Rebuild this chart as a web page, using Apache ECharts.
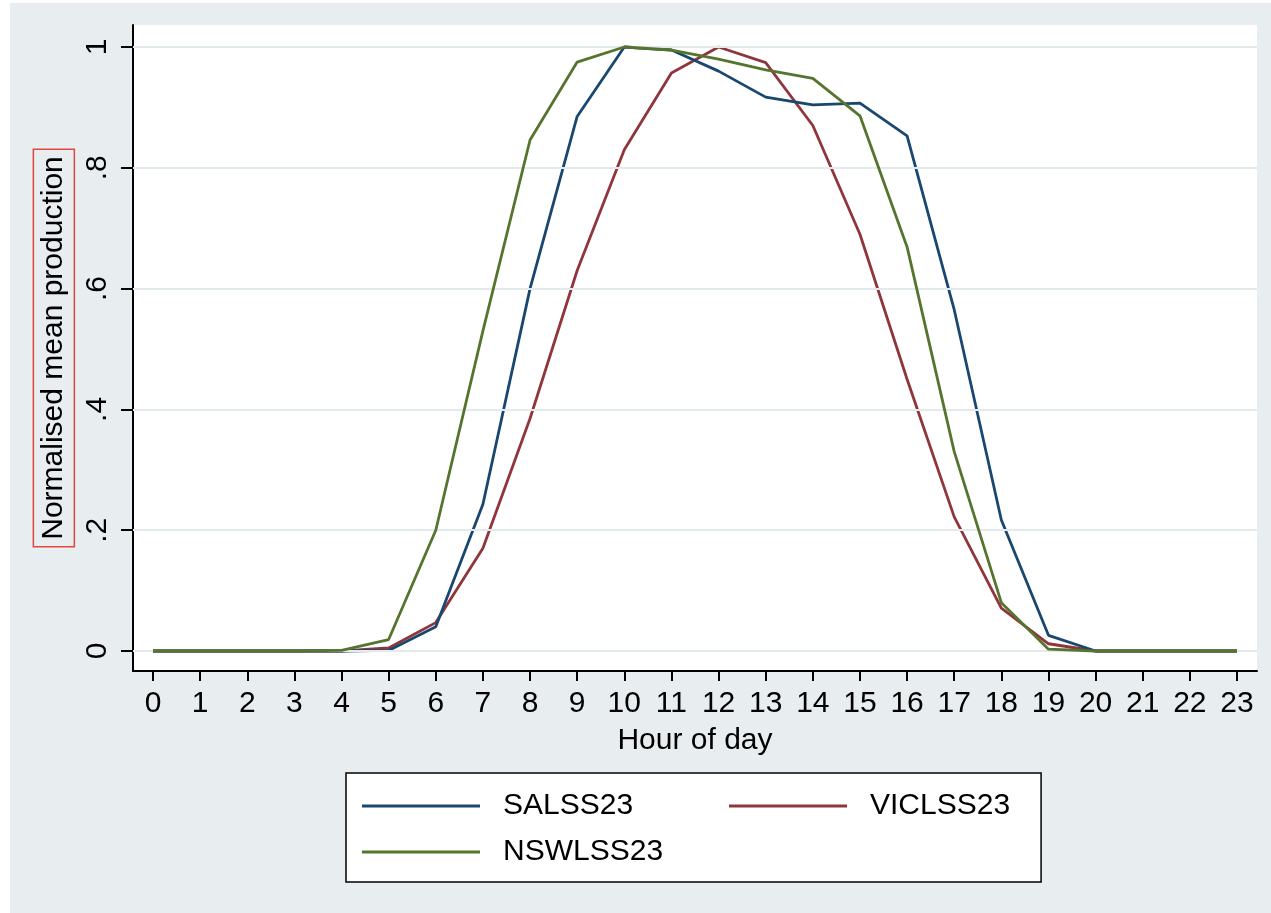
<!DOCTYPE html>
<html>
<head>
<meta charset="utf-8">
<script src="https://cdn.jsdelivr.net/npm/echarts@6/dist/echarts.min.js"></script>
<style>
html,body{margin:0;padding:0;background:#ffffff;overflow:hidden;}
#chart{width:1271px;height:913px;}
</style>
</head>
<body>
<div id="chart"></div>
<script>
// ---- data ----
const hours = [0,1,2,3,4,5,6,7,8,9,10,11,12,13,14,15,16,17,18,19,20,21,22,23];
const salss23 = [0,0,0,0,0,0.001,0.040,0.243,0.600,0.885,1.000,0.995,0.960,0.917,0.904,0.907,0.853,0.565,0.217,0.026,0,0,0,0];
const viclss23 = [0,0,0,0,0,0.005,0.047,0.170,0.385,0.630,0.830,0.957,1.000,0.974,0.870,0.690,0.450,0.222,0.071,0.012,0,0,0,0];
const nswlss23 = [0,0,0,0,0.001,0.019,0.200,0.530,0.846,0.975,1.000,0.995,0.980,0.962,0.948,0.886,0.669,0.330,0.080,0.003,0,0,0,0];
const yTicks = [0,0.2,0.4,0.6,0.8,1];
const yTickLabels = ['0','.2','.4','.6','.8','1'];
const xTicks = hours;

const FONT = "'Liberation Sans',Arial,Helvetica,sans-serif";
const FS = 30;
const navy = '#1a476f', maroon = '#90353b', green = '#55752f';

function pairs(arr){ return hours.map((h,i)=>[h,arr[i]]); }

const chart = echarts.init(document.getElementById('chart'), null, {renderer:'canvas'});
chart.setOption({
  backgroundColor: '#e8eef0',
  animation: false,
  graphic: [
    {type:'rect', left:0, top:0, shape:{width:1271,height:3}, style:{fill:'#ffffff'}, silent:true},
    {type:'rect', left:0, top:0, shape:{width:10,height:913}, style:{fill:'#ffffff'}, silent:true}
  ],
  grid: {
    left: 133, right: 14, top: 25, bottom: 242,
    show: true, backgroundColor: '#ffffff', borderWidth: 0
  },
  xAxis: {
    type: 'value',
    min: -0.4244, max: 23.4244,
    name: 'Hour of day',
    nameLocation: 'middle',
    nameGap: 55,
    nameTextStyle: {fontFamily: FONT, fontSize: FS, color: '#000'},
    axisLine: {show: true, onZero: false, lineStyle: {color: '#000', width: 2}},
    axisTick: {show: true, length: 10, lineStyle: {color: '#000', width: 2}, customValues: xTicks},
    axisLabel: {fontFamily: FONT, fontSize: FS, color: '#000', margin: 18, customValues: xTicks,
      formatter: v => String(v)},
    splitLine: {show: false}
  },
  yAxis: {
    type: 'value',
    min: -0.0331, max: 1.0364,
    name: 'Normalised mean production',
    nameLocation: 'middle',
    nameGap: 48,
    nameRotate: 90,
    nameTextStyle: {fontFamily: FONT, fontSize: FS, color: '#000',
      borderColor: '#e2463c', borderWidth: 1.5, padding: [5, 7, 6, 7]},
    axisLine: {show: true, onZero: false, lineStyle: {color: '#000', width: 2}},
    axisTick: {show: true, length: 12, lineStyle: {color: '#000', width: 2}, customValues: yTicks},
    axisLabel: {fontFamily: FONT, fontSize: FS, color: '#000', margin: 20, rotate: 90,
      customValues: yTicks,
      formatter: v => { const i = yTicks.findIndex(t => Math.abs(t - v) < 1e-6); return i >= 0 ? yTickLabels[i] : ''; }},
    splitLine: {show: false}
  },
  legend: {
    data: ['SALSS23','VICLSS23','NSWLSS23'],
    left: 346, top: 773,
    width: 700,
    orient: 'horizontal',
    backgroundColor: '#ffffff',
    borderColor: '#000',
    borderWidth: 1.5,
    borderRadius: 0,
    padding: [18, 31, 15, 16],
    icon: 'rect',
    itemWidth: 118,
    itemHeight: 3,
    itemGap: 16,
    formatter: name => name === 'VICLSS23' ? name : '{w|' + name + '}',
    textStyle: {fontFamily: FONT, fontSize: FS, lineHeight: 30, color: '#000', padding: [0,0,0,18],
      rich: {w: {fontFamily: FONT, fontSize: FS, lineHeight: 30, color: '#000', width: 210}}}
  },
  series: [
    {
      name: 'gridlines', type: 'line', data: [], z: 1, silent: true,
      markLine: {silent: true, symbol: 'none', label: {show: false}, animation: false,
        lineStyle: {color: '#e2eaed', width: 2, type: 'solid'},
        data: yTicks.map(v => ({yAxis: v}))}
    },
    {name: 'SALSS23', type: 'line', data: pairs(salss23), showSymbol: false, symbol: 'none', z: 4,
      lineStyle: {color: navy, width: 2.8}, itemStyle: {color: navy}},
    {name: 'VICLSS23', type: 'line', data: pairs(viclss23), showSymbol: false, symbol: 'none', z: 3,
      lineStyle: {color: maroon, width: 2.8}, itemStyle: {color: maroon}},
    {name: 'NSWLSS23', type: 'line', data: pairs(nswlss23), showSymbol: false, symbol: 'none', z: 5,
      lineStyle: {color: green, width: 2.8}, itemStyle: {color: green}}
  ]
});
</script>
</body>
</html>
